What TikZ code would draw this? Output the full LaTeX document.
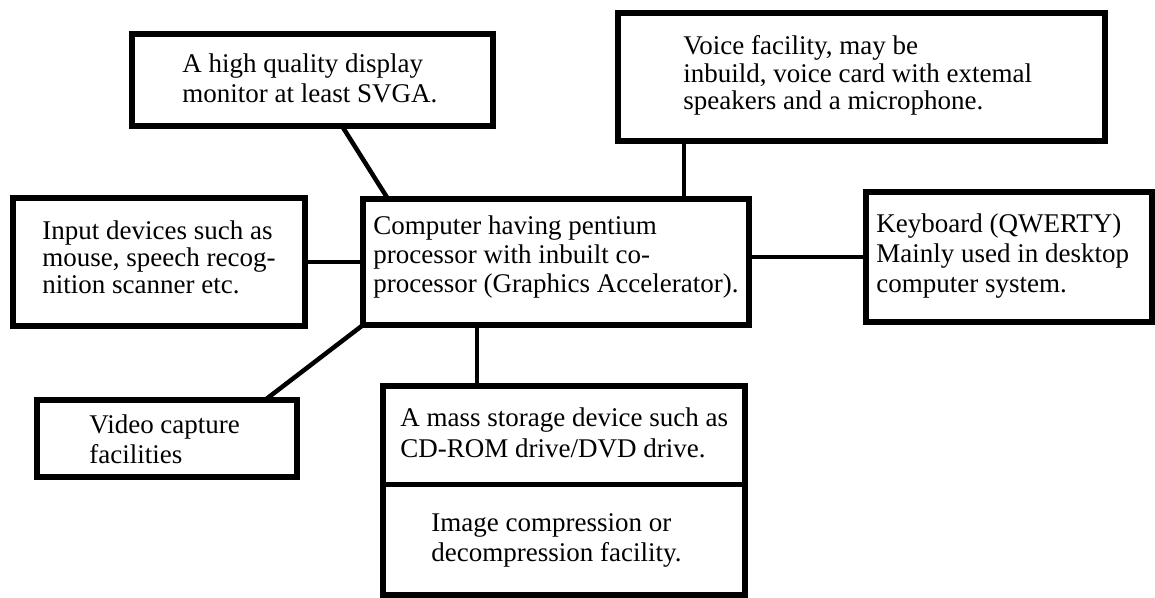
\documentclass[tikz,border=0pt]{standalone}
\usepackage{fontspec}
\setmainfont{Liberation Serif}
\usetikzlibrary{calc}
\begin{document}
\begin{tikzpicture}[x=0.5pt,y=-0.5pt,
  box/.style={draw, rectangle, line width=3.25pt, inner sep=0pt, outer sep=0pt},
  conn/.style={line width=2.25pt},
  txt/.style={anchor=base west, inner sep=0pt,
    font=\fontsize{13.5pt}{#1}\selectfont},
]
% canvas
\fill[white] (0,0) rectangle (1155,598);
\useasboundingbox (0,0) rectangle (1155,598);

% frames
\node[box, minimum width=180.5pt, minimum height=46pt]   (monitor)  at (312.5,80)  {};
\node[box, minimum width=243.5pt, minimum height=64pt]   (voice)    at (861.5,77)  {};
\node[box, minimum width=146pt,   minimum height=64pt]   (input)    at (159,262)   {};
\node[box, minimum width=193pt,   minimum height=63pt]   (computer) at (556,262)   {};
\node[box, minimum width=143pt,   minimum height=65pt]   (keyboard) at (1009,257)  {};
\node[box, minimum width=130pt,   minimum height=38.5pt] (video)    at (167,438.5) {};
\node[box, minimum width=181pt,   minimum height=104.5pt] (store)   at (564,490.5) {};
% divider between the two halves of the storage frame
\draw[line width=2.5pt] (store.west |- 0,484) -- (store.east |- 0,484);

% texts
\node[txt=15pt] (monitortext) at (182,73)
  {\begin{tabular}[t]{@{}l@{}}A high quality display\\ monitor at least SVGA.\end{tabular}};
\node[txt=13.75pt] (voicetext) at (683,55)
  {\begin{tabular}[t]{@{}l@{}}Voice facility, may be\\ inbuild, voice card with extemal\\ speakers and a microphone.\end{tabular}};
\node[txt=13.5pt] (inputtext) at (42,240)
  {\begin{tabular}[t]{@{}l@{}}Input devices such as\\ mouse, speech recog-\\ nition scanner etc.\end{tabular}};
\node[txt=14.5pt] (computertext) at (373,235)
  {\begin{tabular}[t]{@{}l@{}}Computer having pentium\\ processor with inbuilt co-\\ processor (Graphics Accelerator).\end{tabular}};
\node[txt=15pt] (keyboardtext) at (876,233)
  {\begin{tabular}[t]{@{}l@{}}Keyboard (QWERTY)\\ Mainly used in desktop\\ computer system.\end{tabular}};
\node[txt=15pt] (videotext) at (89,433)
  {\begin{tabular}[t]{@{}l@{}}Video capture\\ facilities\end{tabular}};
\node[txt=15.5pt] (storetext) at (400,426)
  {\begin{tabular}[t]{@{}l@{}}A mass storage device such as\\ CD-ROM drive/DVD drive.\end{tabular}};
\node[txt=15pt] (compresstext) at (431,531)
  {\begin{tabular}[t]{@{}l@{}}Image compression or\\ decompression facility.\end{tabular}};

% connectors
\coordinate (vdrop) at ([xshift=33pt]voice.south west);
\coordinate (sdrop) at ([xshift=47pt]store.north west);
\draw[conn] ([xshift=105pt]monitor.south west) -- ([xshift=12.5pt]computer.north west);
\draw[conn] (vdrop) -- (vdrop |- computer.north);
\draw[conn] (input.east) -- (computer.west);
\draw[conn] (computer.east |- keyboard.west) -- (keyboard.west);
\draw[conn] (computer.south west) -- ([xshift=114pt]video.north west);
\draw[conn] (sdrop |- computer.south) -- (sdrop);
\end{tikzpicture}
\end{document}
